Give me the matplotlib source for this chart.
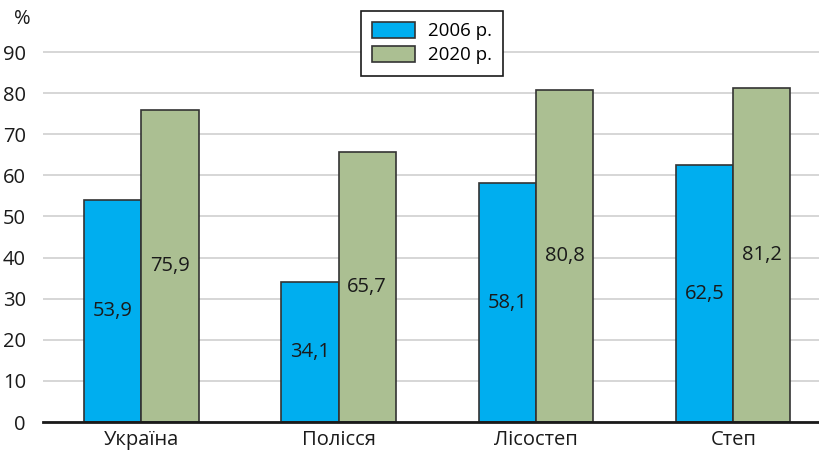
import matplotlib.pyplot as plt
import numpy as np

plt.rcParams['font.family'] = ['Open Sans', 'DejaVu Sans']

regions = ["Україна", "Полісся", "Лісостеп", "Степ"]
values_2006 = [53.9, 34.1, 58.1, 62.5]
values_2020 = [75.9, 65.7, 80.8, 81.2]
series_names = ["2006 р.", "2020 р."]
yticks = [0, 10, 20, 30, 40, 50, 60, 70, 80, 90]

fig = plt.figure(figsize=(8.2, 4.55), dpi=100)
ax = fig.add_axes([0.052, 0.0725, 0.948, 0.9035])

x = np.arange(len(regions))
w = 0.29
b1 = ax.bar(x - w / 2, values_2006, w, color='#00AEEF', edgecolor='#333333', linewidth=1.2,
            label=series_names[0], zorder=3)
b2 = ax.bar(x + w / 2, values_2020, w, color='#ABBF92', edgecolor='#333333', linewidth=1.2,
            label=series_names[1], zorder=3)

def fmt(v):
    return f"{v:.1f}".replace('.', ',')

for bars, vals in ((b1, values_2006), (b2, values_2020)):
    for r, v in zip(bars, vals):
        ax.text(r.get_x() + r.get_width() / 2, v / 2, fmt(v), ha='center', va='center',
                fontsize=14.5, color='#1a1a1a', zorder=4)

ax.set_xlim(-0.5, 3.44)
ax.set_ylim(0, 100)
ax.set_yticks(yticks)
ax.set_xticks(x)
ax.set_xticklabels(regions, fontsize=14.5, color='#1a1a1a')
ax.tick_params(axis='y', labelsize=14.5, length=0, pad=12, colors='#1a1a1a')
ax.tick_params(axis='x', length=0, pad=6)
ax.yaxis.grid(True, color='#d0d0d0', linewidth=1.2, zorder=0)
ax.set_axisbelow(True)
for s in ('top', 'right', 'left'):
    ax.spines[s].set_visible(False)
ax.spines['bottom'].set_linewidth(2)
ax.spines['bottom'].set_color('#1a1a1a')
ax.spines['bottom'].set_zorder(5)

fig.text(0.027, 0.958, "%", fontsize=14.5, ha='center', va='center', color='#1a1a1a')

leg = ax.legend(loc='upper left', bbox_to_anchor=(0.409, 1.0), borderaxespad=0, fontsize=13.5,
                frameon=True, fancybox=False, edgecolor='#1a1a1a', framealpha=1,
                handlelength=2.3, handleheight=0.9, borderpad=0.6, handletextpad=0.7,
                labelspacing=0.3)
leg.get_frame().set_linewidth(1.2)

fig.savefig('out.png', dpi=100)
